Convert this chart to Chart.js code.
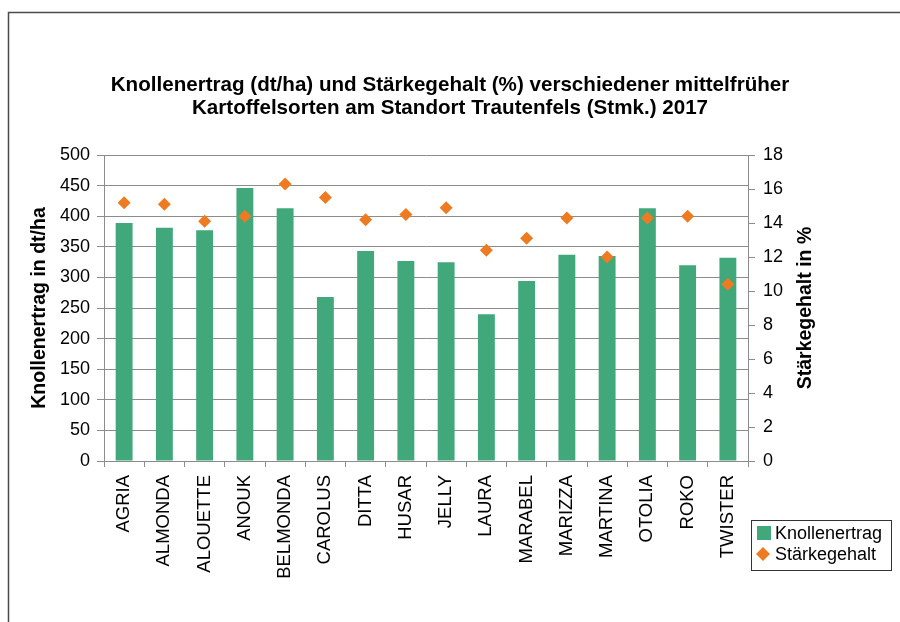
<!DOCTYPE html>
<html lang="de">
<head>
<meta charset="utf-8">
<title>Knollenertrag und Stärkegehalt 2017</title>
<script src="https://cdn.jsdelivr.net/npm/chart.js@4.4.1/dist/chart.umd.min.js"></script>
<style>
  html, body { margin: 0; padding: 0; background: #fff; }
  #wrap { width: 900px; height: 622px; position: relative; overflow: hidden; }
</style>
</head>
<body>
<div id="wrap"><canvas id="sortenChart" width="900" height="622"></canvas></div>
<script>
// Sorten (Kategorien)
const sorten = ["AGRIA", "ALMONDA", "ALOUETTE", "ANOUK", "BELMONDA", "CAROLUS", "DITTA", "HUSAR",
  "JELLY", "LAURA", "MARABEL", "MARIZZA", "MARTINA", "OTOLIA", "ROKO", "TWISTER"];

// Knollenertrag in dt/ha
const knollenertrag = [389, 381, 377, 446, 413, 268, 343, 327, 325, 240, 294, 337, 335, 413, 320, 332];

// Stärkegehalt in %
const staerkegehalt = [15.2, 15.1, 14.1, 14.4, 16.3, 15.5, 14.2, 14.5, 14.9, 12.4, 13.1, 14.3, 12.0, 14.3, 14.4, 10.4];

const titelZeilen = [
  "Knollenertrag (dt/ha) und Stärkegehalt (%) verschiedener mittelfrüher",
  "Kartoffelsorten am Standort Trautenfels (Stmk.) 2017"
];
const titelLinks = "Knollenertrag in dt/ha";
const titelRechts = "Stärkegehalt in %";

const FONT = '"Liberation Sans", Arial, sans-serif';
const GRUEN = "#40a87a";
const ORANGE = "#ee7b22";
const GRAU = "#8c8c8c";

// Rahmen, rechter Achsentitel und Legende werden hier gezeichnet
const extras = {
  id: "extras",
  beforeDraw(chart) {
    const ctx = chart.ctx;
    ctx.save();
    ctx.fillStyle = "#fff";
    ctx.fillRect(0, 0, chart.width, chart.height);
    ctx.strokeStyle = "#4a4a4a";
    ctx.lineWidth = 1.5;
    ctx.strokeRect(8.5, 12.5, 1000, 1000);
    ctx.restore();
  },
  afterDraw(chart) {
    const ctx = chart.ctx;
    const area = chart.chartArea;
    ctx.save();

    // rechter Achsentitel (von unten nach oben gelesen)
    ctx.font = "bold 19.5px " + FONT;
    ctx.fillStyle = "#000";
    ctx.textAlign = "center";
    ctx.textBaseline = "middle";
    ctx.translate(806, (area.top + area.bottom) / 2);
    ctx.rotate(-Math.PI / 2);
    ctx.fillText(titelRechts, 0, 0);
    ctx.setTransform(1, 0, 0, 1, 0, 0);

    // Legende
    const ds = chart.data.datasets;
    ctx.strokeStyle = "#333";
    ctx.lineWidth = 1;
    ctx.strokeRect(751.5, 520.5, 140, 50);
    ctx.font = "18px " + FONT;
    ctx.textAlign = "left";
    ctx.fillStyle = ds[1].backgroundColor;
    ctx.fillRect(757, 526, 14, 14);
    ctx.fillStyle = "#000";
    ctx.fillText(ds[1].label, 775, 534);
    ctx.fillStyle = ds[0].backgroundColor;
    ctx.beginPath();
    ctx.moveTo(763, 547);
    ctx.lineTo(770, 554);
    ctx.lineTo(763, 561);
    ctx.lineTo(756, 554);
    ctx.closePath();
    ctx.fill();
    ctx.fillStyle = "#000";
    ctx.fillText(ds[0].label, 775, 555);
    ctx.restore();
  }
};

const ctx = document.getElementById("sortenChart");
new Chart(ctx, {
  type: "bar",
  data: {
    labels: sorten,
    datasets: [
      {
        type: "line",
        label: "Stärkegehalt",
        data: staerkegehalt,
        yAxisID: "y1",
        showLine: false,
        pointStyle: "rectRot",
        pointRadius: 6.5,
        pointBorderWidth: 0,
        backgroundColor: ORANGE,
        borderColor: ORANGE,
        order: 0
      },
      {
        label: "Knollenertrag",
        data: knollenertrag,
        yAxisID: "y",
        backgroundColor: GRUEN,
        borderWidth: 0,
        barPercentage: 0.42,
        categoryPercentage: 1.0,
        order: 1
      }
    ]
  },
  options: {
    responsive: false,
    animation: false,
    devicePixelRatio: 1,
    layout: { padding: 0 },
    plugins: {
      legend: { display: false },
      tooltip: { enabled: false },
      title: {
        display: true,
        text: titelZeilen,
        color: "#000",
        font: { family: FONT, size: 20.6, weight: "bold", lineHeight: 1.12 },
        padding: { top: 73.5, bottom: 35.4 }
      }
    },
    scales: {
      x: {
        grid: { offset: true, drawOnChartArea: false, tickLength: 6, color: GRAU },
        border: { color: GRAU },
        ticks: {
          color: "#000",
          font: { family: FONT, size: 18.5 },
          minRotation: 90,
          maxRotation: 90,
          autoSkip: false,
          padding: 8
        },
        afterFit(scale) { scale.height = 161; }
      },
      y: {
        position: "left",
        min: 0,
        max: 500,
        ticks: { stepSize: 50, color: "#000", font: { family: FONT, size: 18 }, padding: 7 },
        grid: { color: GRAU, tickLength: 7 },
        border: { color: GRAU },
        title: {
          display: true,
          text: titelLinks,
          color: "#000",
          font: { family: FONT, size: 19.5, weight: "bold", lineHeight: 1.2 },
          padding: { top: 28, bottom: 0 }
        },
        afterFit(scale) { scale.width = 104; }
      },
      y1: {
        position: "right",
        min: 0,
        max: 18,
        ticks: { stepSize: 2, color: "#000", font: { family: FONT, size: 18 }, padding: 8 },
        grid: { drawOnChartArea: false, color: GRAU, tickLength: 7 },
        border: { color: GRAU },
        afterFit(scale) { scale.width = 152; }
      }
    }
  },
  plugins: [extras]
});
</script>
</body>
</html>
